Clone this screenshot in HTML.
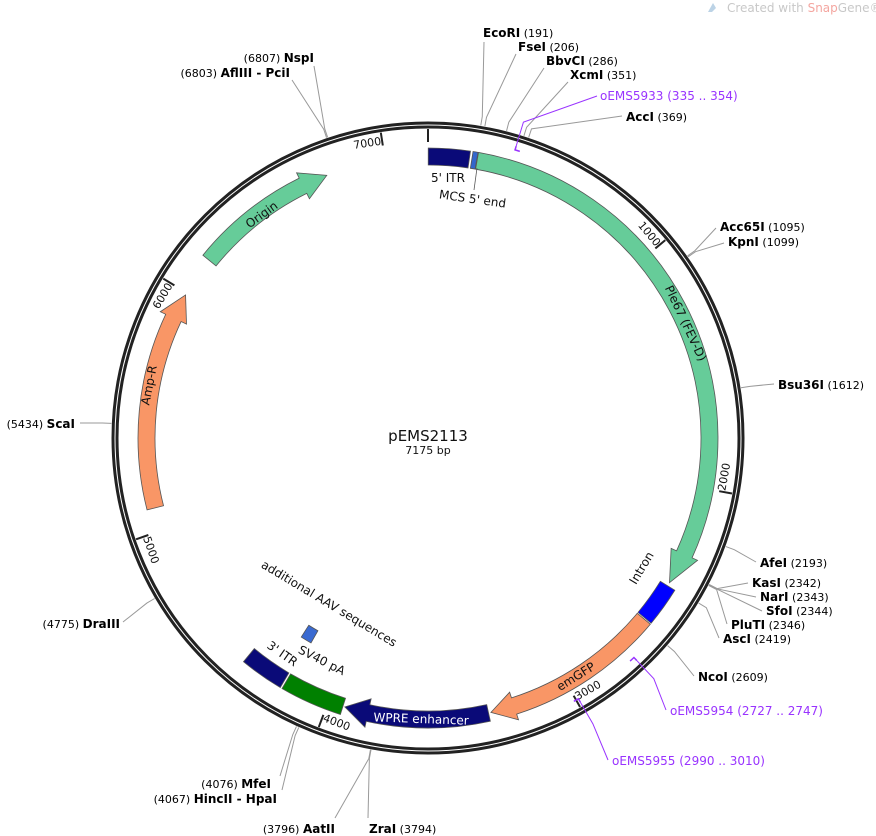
<!DOCTYPE html>
<html><head><meta charset="utf-8">
<style>
html,body{margin:0;padding:0;background:#fff;}
svg{display:block;font-family:"DejaVu Sans","Liberation Sans",sans-serif;}
</style></head>
<body>
<svg id="s" width="876" height="836" viewBox="0 0 876 836" xmlns="http://www.w3.org/2000/svg">
<text x="727" y="12" font-size="12" fill="#c8c8c8">Created with <tspan fill="#f4a6a0">Snap</tspan>Gene®</text>
<path d="M708 12 L713 3 L716 8 L712 12 Z" fill="#bcd3e6"/>
<circle cx="428" cy="438" r="315" fill="none" stroke="#222" stroke-width="3"/>
<circle cx="428" cy="438" r="311" fill="none" stroke="#222" stroke-width="3"/>
<text x="428" y="441" font-size="15" text-anchor="middle" fill="#111">pEMS2113</text>
<text x="428" y="454" font-size="11" text-anchor="middle" fill="#111">7175 bp</text>
<g id="g"></g>
<g font-size="11" fill="#000">
<text x="483" y="37"><tspan font-weight="bold" font-size="12">EcoRI</tspan> (191)</text>
<text x="518" y="51"><tspan font-weight="bold" font-size="12">FseI</tspan> (206)</text>
<text x="546" y="65"><tspan font-weight="bold" font-size="12">BbvCI</tspan> (286)</text>
<text x="570" y="79"><tspan font-weight="bold" font-size="12">XcmI</tspan> (351)</text>
<text x="600" y="100" fill="#9933ff" font-size="12">oEMS5933  (335 .. 354)</text>
<text x="626" y="121"><tspan font-weight="bold" font-size="12">AccI</tspan> (369)</text>
<text x="720" y="231"><tspan font-weight="bold" font-size="12">Acc65I</tspan> (1095)</text>
<text x="728" y="246"><tspan font-weight="bold" font-size="12">KpnI</tspan> (1099)</text>
<text x="778" y="389"><tspan font-weight="bold" font-size="12">Bsu36I</tspan> (1612)</text>
<text x="760" y="567"><tspan font-weight="bold" font-size="12">AfeI</tspan> (2193)</text>
<text x="752" y="587"><tspan font-weight="bold" font-size="12">KasI</tspan> (2342)</text>
<text x="760" y="601"><tspan font-weight="bold" font-size="12">NarI</tspan> (2343)</text>
<text x="766" y="615"><tspan font-weight="bold" font-size="12">SfoI</tspan> (2344)</text>
<text x="731" y="629"><tspan font-weight="bold" font-size="12">PluTI</tspan> (2346)</text>
<text x="723" y="643"><tspan font-weight="bold" font-size="12">AscI</tspan> (2419)</text>
<text x="698" y="681"><tspan font-weight="bold" font-size="12">NcoI</tspan> (2609)</text>
<text x="670" y="715" fill="#9933ff" font-size="12">oEMS5954  (2727 .. 2747)</text>
<text x="612" y="765" fill="#9933ff" font-size="12">oEMS5955  (2990 .. 3010)</text>
<text x="369" y="833"><tspan font-weight="bold" font-size="12">ZraI</tspan> (3794)</text>
<text x="335" y="833" text-anchor="end">(3796)  <tspan font-weight="bold" font-size="12">AatII</tspan></text>
<text x="271" y="788" text-anchor="end">(4076)  <tspan font-weight="bold" font-size="12">MfeI</tspan></text>
<text x="277" y="803" text-anchor="end">(4067)  <tspan font-weight="bold" font-size="12">HincII - HpaI</tspan></text>
<text x="120" y="628" text-anchor="end">(4775)  <tspan font-weight="bold" font-size="12">DraIII</tspan></text>
<text x="75" y="428" text-anchor="end">(5434)  <tspan font-weight="bold" font-size="12">ScaI</tspan></text>
<text x="290" y="77" text-anchor="end">(6803)  <tspan font-weight="bold" font-size="12">AflIII - PciI</tspan></text>
<text x="314" y="62" text-anchor="end">(6807)  <tspan font-weight="bold" font-size="12">NspI</tspan></text>
</g>
<g font-size="12" fill="#111">
<text x="448" y="182" text-anchor="middle">5' ITR</text>
<text x="472" y="203" text-anchor="middle" transform="rotate(8 472 203)">MCS 5' end</text>
<text x="682" y="325" text-anchor="middle" transform="rotate(65 682 325)">Ple67 (FEV-D)</text>
<text x="645" y="570" text-anchor="middle" transform="rotate(-59 645 570)">Intron</text>
<text x="578" y="680" text-anchor="middle" transform="rotate(-32 578 680)">emGFP</text>
<text x="421" y="723" text-anchor="middle" fill="#fff" transform="rotate(2 421 723)">WPRE enhancer</text>
<text x="280" y="657" text-anchor="middle" transform="rotate(35 280 657)">3' ITR</text>
<text x="320" y="664" text-anchor="middle" transform="rotate(27 320 664)">SV40 pA</text>
<text x="327" y="607" text-anchor="middle" transform="rotate(31 327 607)">additional AAV sequences</text>
<text x="153" y="386" text-anchor="middle" transform="rotate(-79 153 386)">Amp-R</text>
<text x="264" y="218" text-anchor="middle" transform="rotate(-36 264 218)">Origin</text>
</g>
</svg>
<script>
(function(){
var cx=428,cy=438,N=7175,NS="http://www.w3.org/2000/svg",g=document.getElementById("g");
function P(bp,r){var t=bp/N*2*Math.PI;return (cx+r*Math.sin(t)).toFixed(2)+","+(cy-r*Math.cos(t)).toFixed(2);}
function PA(bp,r){var t=bp/N*2*Math.PI;return [cx+r*Math.sin(t),cy-r*Math.cos(t)];}
function el(tag,attrs,txt){var e=document.createElementNS(NS,tag);for(var k in attrs)e.setAttribute(k,attrs[k]);if(txt)e.textContent=txt;g.appendChild(e);return e;}
function lg(d){return d/N>0.5?1:0;}
function feat(s,e,r1,r2,dir,head,fill){
  var rm=(r1+r2)/2,hb=head/rm*N/(2*Math.PI),d;
  if(dir==1){var b=e-hb;
    d="M"+P(s,r2)+" A"+r2+" "+r2+" 0 "+lg(b-s)+" 1 "+P(b,r2)+" L"+P(b,r2+6)+" L"+P(e,rm)+" L"+P(b,r1-6)+" L"+P(b,r1)+" A"+r1+" "+r1+" 0 "+lg(b-s)+" 0 "+P(s,r1)+" Z";
  }else{
    d="M"+P(s,r2)+" A"+r2+" "+r2+" 0 "+lg(e-s)+" 1 "+P(e,r2)+" L"+P(e,r1)+" A"+r1+" "+r1+" 0 "+lg(e-s)+" 0 "+P(s,r1)+" Z";
  }
  el("path",{d:d,fill:fill,stroke:"#555","stroke-width":"0.8"});
}
var R1=273,R2=290;
feat(1,168,R1,R2,0,0,"#0a0a78");
feat(178,198,R1,R2,0,0,"#3366cc");
feat(200,2410,R1,R2,1,32,"#66cc99");
feat(2425,2585,R1,R2,0,0,"#0000ff");
feat(2590,3330,R1,R2,1,24,"#f99666");
feat(3340,3930,R1,R2,1,24,"#0a0a78");
feat(3938,4190,R1,R2,0,0,"#008000");
feat(4198,4375,R1,R2,0,0,"#0a0a78");
feat(4180,4235,222,236,0,0,"#3a6ad1");
feat(5095,5990,R1,R2,1,26,"#f99666");
feat(6160,6755,R1,R2,1,26,"#66cc99");
el("line",{x1:477,y1:168,x2:474,y2:190,stroke:"#555","stroke-width":"0.8"});
for(var k=0;k<=7;k++){
  var bp=k*1000; el("line",{x1:PA(bp,309)[0],y1:PA(bp,309)[1],x2:PA(bp,296)[0],y2:PA(bp,296)[1],stroke:"#222","stroke-width":"2"});
  if(k==0)continue;
  var th=bp/N*360, top=(th<90||th>270), rot=top?(th>180?th-360:th):th-180;
  var p=PA(bp-4,top?297:302);
  el("text",{x:p[0],y:p[1],"font-size":"11",fill:"#111","text-anchor":top?"end":"start",transform:"rotate("+rot.toFixed(1)+" "+p[0].toFixed(1)+" "+p[1].toFixed(1)+")"},String(bp));
}
var en=[[191,484,42],[206,516,54],[286,544,68],[351,568,82],[369,622,116],[1095,716,228],[1099,724,243],[1612,774,384],[2193,756,562],[2342,748,583],[2343,756,597],[2344,762,611],[2346,727,624],[2419,719,638],[2609,694,676],[3794,368,818],[3796,335,818],[4076,280,776],[4067,282,790],[4775,123,622],[5434,80,423],[6803,292,80],[6807,314,66]];
en.forEach(function(a){
  el("polyline",{points:P(a[0],317)+" "+P(a[0],326)+" "+a[1]+","+a[2],fill:"none",stroke:"#999","stroke-width":"1"});
});
var pr=[[335,354,597,96],[2727,2747,666,710],[2990,3010,608,760]];
pr.forEach(function(a){
  el("path",{d:"M"+P(a[0],305)+" L"+P(a[0],301)+" A301 301 0 0 1 "+P(a[1],301),fill:"none",stroke:"#9933ff","stroke-width":"1.5"});
  el("polyline",{points:P(a[0],305)+" "+P(a[0],330)+" "+a[2]+","+a[3],fill:"none",stroke:"#9933ff","stroke-width":"1"});
});
})();
</script>
</body></html>
